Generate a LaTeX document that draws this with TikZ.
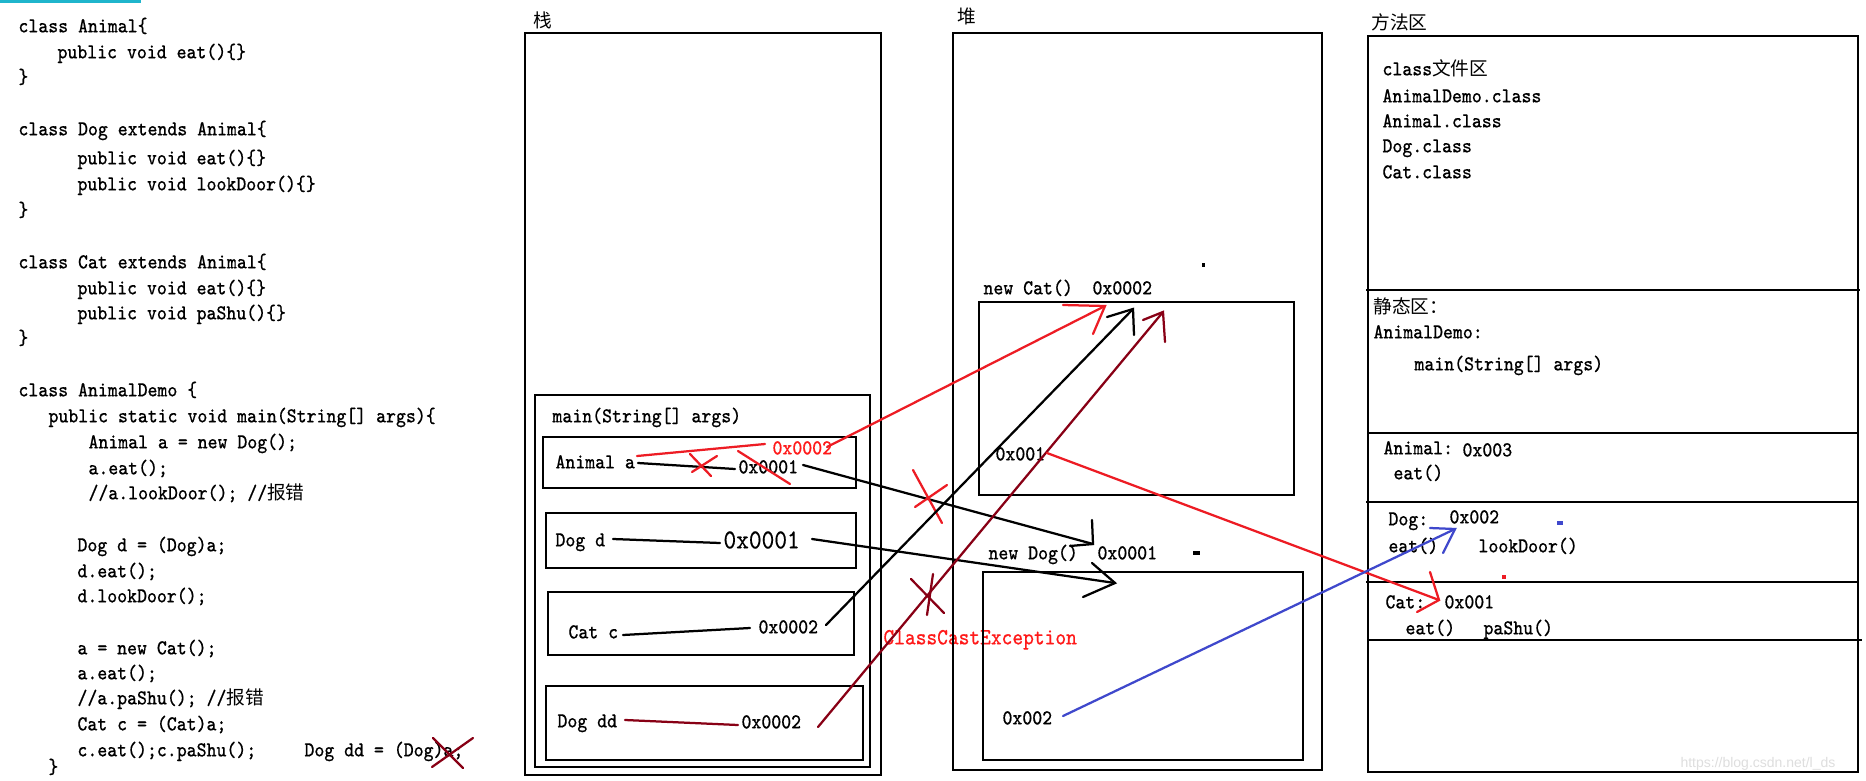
\documentclass[tikz,border=0pt]{standalone}
\usepackage{fontspec}
\setmonofont[FakeStretch=0.88,FakeBold=0.35]{Latin Modern Mono}
\newfontfamily\cjkfont[Scale=0.88]{Noto Sans CJK SC}
\newfontfamily\wmfont{Liberation Sans}
\newcommand\zh[1]{{\cjkfont #1}}
\definecolor{pred}{HTML}{ED1C24}
\definecolor{dred}{HTML}{880015}
\definecolor{pblue}{HTML}{3F48CC}
\definecolor{tred}{HTML}{FF1A1A}
\definecolor{barteal}{HTML}{1FB5CC}
\begin{document}
\begin{tikzpicture}[x=0.4pt,y=-0.4pt,
  code/.style={anchor=mid west,inner sep=0pt,font=\ttfamily\fontsize{8.5pt}{10pt}\selectfont},
  bigcode/.style={anchor=mid west,inner sep=0pt,font=\ttfamily\fontsize{11pt}{12pt}\selectfont},
  exc/.style={anchor=mid west,inner sep=0pt,text=tred,font=\ttfamily\fontsize{9.3pt}{11pt}\selectfont},
  frame/.style={draw=black,line width=1.1pt},
  ink/.style={line width=0.9pt,line cap=round},
  cross/.style={line width=0.9pt,line cap=round}]
\useasboundingbox (0,0) rectangle (1866,780);
\fill[white] (0,0) rectangle (1866,780);
\fill[barteal] (0,0) rectangle (141,3);

% ---------------- code ----------------
\node[code] (k1)  at (18,27)  {class Animal\{};
\node[code] (k2)  at (57,53)  {public void eat()\{\}};
\node[code] (k3)  at (18,78)  {\}};
\node[code] (k4)  at (18,130) {class Dog extends Animal\{};
\node[code] (k5)  at (77,159) {public void eat()\{\}};
\node[code] (k6)  at (77,185) {public void lookDoor()\{\}};
\node[code] (k7)  at (18,211) {\}};
\node[code] (k8)  at (18,263) {class Cat extends Animal\{};
\node[code] (k9)  at (77,289) {public void eat()\{\}};
\node[code] (k10) at (77,314) {public void paShu()\{\}};
\node[code] (k11) at (18,339) {\}};
\node[code] (k12) at (18,391) {class AnimalDemo \{};
\node[code] (k13) at (48,417) {public static void main(String[] args)\{};
\node[code] (k14) at (88,443) {Animal a = new Dog();};
\node[code] (k15) at (88,469) {a.eat();};
\node[code] (k16) at (88,494) {//a.lookDoor(); //\zh{报错}};
\node[code] (k17) at (77,546) {Dog d = (Dog)a;};
\node[code] (k18) at (77,572) {d.eat();};
\node[code] (k19) at (77,597) {d.lookDoor();};
\node[code] (k20) at (77,649) {a = new Cat();};
\node[code] (k21) at (77,674) {a.eat();};
\node[code] (k22) at (77,699) {//a.paShu(); //\zh{报错}};
\node[code] (k23) at (77,725) {Cat c = (Cat)a;};
\node[code] (k24) at (77,751) {c.eat();c.paShu();};
\node[code] (k25) at (304,751) {Dog dd = (Dog)a;};
\node[code] (k26) at (48,768) {\}};
\draw[dred,cross] (432,767) -- (473,738);
\draw[dred,cross] (433,738) -- (463,768);

% ---------------- stack ----------------
\node[code] (lstack) at (533,22) {\zh{栈}};
\draw[frame] (525,33) rectangle (881,775);
\draw[frame] (535,395) rectangle (870,767);
\node[code] (smain) at (552,417) {main(String[] args)};
\draw[frame] (543,437) rectangle (856,488);
\draw[frame] (546,513) rectangle (856,568);
\draw[frame] (548,592) rectangle (854,655);
\draw[frame] (546,686) rectangle (863,760);

\node[code] (va) at (555,463) {Animal a};
\node[code] (va1) at (738,468) {0x0001};
\node[code,text=tred] (va2) at (772,449) {0x0002};
\node[code] (vd) at (555,541) {Dog d};
\node[bigcode] (vd1) at (723,543) {0x0001};
\node[code] (vc) at (568,633) {Cat c};
\node[code] (vc2) at (758,628) {0x0002};
\node[code] (vdd) at (557,722) {Dog dd};
\node[code] (vdd2) at (741,723) {0x0002};
\node[exc] (cce) at (883,639) {ClassCastException};

% ---------------- heap ----------------
\node[code] (lheap) at (957,18) {\zh{堆}};
\draw[frame] (953,33) rectangle (1322,770);
\node[code] (hcat) at (983,289) {new Cat()};
\node[code] (hcata) at (1092,289) {0x0002};
\draw[frame] (979,302) rectangle (1294,495);
\node[code] (hcatm) at (995,455) {0x001};
\node[code] (hdog) at (988,554) {new Dog()};
\node[code] (hdoga) at (1097,554) {0x0001};
\draw[frame] (983,572) rectangle (1303,760);
\node[code] (hdogm) at (1002,719) {0x002};
\fill[black] (1202,263) rectangle (1205,267);
\fill[black] (1193,551) rectangle (1200,555);

% ---------------- method area ----------------
\node[code] (lmeth) at (1371,24) {\zh{方法区}};
\draw[frame] (1368,36) rectangle (1858,772);
\draw[frame] (1366,290) -- (1860,290);
\draw[frame] (1368,433) -- (1858,433);
\draw[frame] (1366,502) -- (1858,502);
\draw[frame] (1366,582) -- (1858,582);
\draw[frame] (1368,640) -- (1862,640);
\node[code] (m1) at (1382,70)  {class\zh{文件区}};
\node[code] (m2) at (1382,97)  {AnimalDemo.class};
\node[code] (m3) at (1382,122) {Animal.class};
\node[code] (m4) at (1382,147) {Dog.class};
\node[code] (m5) at (1382,173) {Cat.class};
\node[code] (m6) at (1373,308) {\zh{静态区：}};
\node[code] (m7) at (1373,333) {AnimalDemo:};
\node[code] (m8) at (1414,365) {main(String[] args)};
\node[code] (m9) at (1383,449) {Animal:};
\node[code] (m10) at (1462,451) {0x003};
\node[code] (m11) at (1393,474) {eat()};
\node[code] (m12) at (1388,520) {Dog:};
\node[code] (m13) at (1449,518) {0x002};
\node[code] (m14) at (1388,547) {eat()};
\node[code] (m15) at (1478,547) {lookDoor()};
\node[code] (m16) at (1385,603) {Cat:};
\node[code] (m17) at (1444,603) {0x001};
\node[code] (m18) at (1405,629) {eat()};
\node[code] (m19) at (1483,629) {paShu()};
\fill[pblue] (1557,521) rectangle (1563,525);
\fill[pred] (1502,575) rectangle (1506,579);
\node[anchor=mid west,inner sep=0pt,text=black!13,font=\wmfont\fontsize{5.6pt}{6pt}\selectfont] (wm) at (1680,762) {https://blog.csdn.net/l\_ds};

% ---------------- connectors ----------------
\coordinate (a0) at (638,463); \coordinate (a1) at (735,469);
\coordinate (r0) at (637,456); \coordinate (r1) at (765,444);
\coordinate (ra) at (827,447); \coordinate (tA) at (1105,306);
\coordinate (ba) at (803,465); \coordinate (tB) at (1093,544);
\coordinate (d0) at (613,539); \coordinate (d1) at (720,543);
\coordinate (bd) at (812,539); \coordinate (tC) at (1115,583);
\coordinate (c0) at (623,635); \coordinate (c1) at (750,628);
\coordinate (bc) at (826,625); \coordinate (tD) at (1133,309);
\coordinate (e0) at (625,720); \coordinate (e1) at (738,725);
\coordinate (be) at (818,727); \coordinate (tE) at (1163,312);
\coordinate (bf) at (1047,453); \coordinate (tF) at (1439,600);
\coordinate (bg) at (1063,716); \coordinate (tG) at (1455,529);

% Animal a
\draw[ink,black] (a0) -- (a1);
\draw[ink,pred] (r0) -- (r1);
\draw[cross,pred] (690,454) -- (711,476);
\draw[cross,pred] (717,456) -- (692,472);
\draw[cross,pred] (738,451) -- (790,484);
\draw[ink,pred] (ra) -- (tA);
\draw[ink,pred] (1063,305) -- (tA) -- (1093,334);
\draw[ink,black] (ba) -- (tB);
\draw[ink,black] (1092,520) -- (tB) -- (1070,546);
\draw[cross,pred] (913,470) -- (942,523);
\draw[cross,pred] (915,507) -- (947,485);
% Dog d
\draw[ink,black] (d0) -- (d1);
\draw[ink,black] (bd) -- (tC);
\draw[ink,black] (1092,563) -- (tC) -- (1083,597);
% Cat c
\draw[ink,black] (c0) -- (c1);
\draw[ink,black] (bc) -- (tD);
\draw[ink,black] (1107,317) -- (tD) -- (1134,335);
% Dog dd
\draw[ink,dred] (e0) -- (e1);
\draw[ink,dred] (be) -- (tE);
\draw[ink,dred] (1143,320) -- (tE) -- (1165,342);
\draw[cross,dred] (911,579) -- (944,613);
\draw[cross,dred] (933,574) -- (927,615);
% heap -> method area
\draw[ink,pred] (bf) -- (tF);
\draw[ink,pred] (1430,572) -- (tF) -- (1417,612);
\draw[ink,pblue] (bg) -- (tG);
\draw[ink,pblue] (1430,528) -- (tG) -- (1443,553);
\end{tikzpicture}
\end{document}
